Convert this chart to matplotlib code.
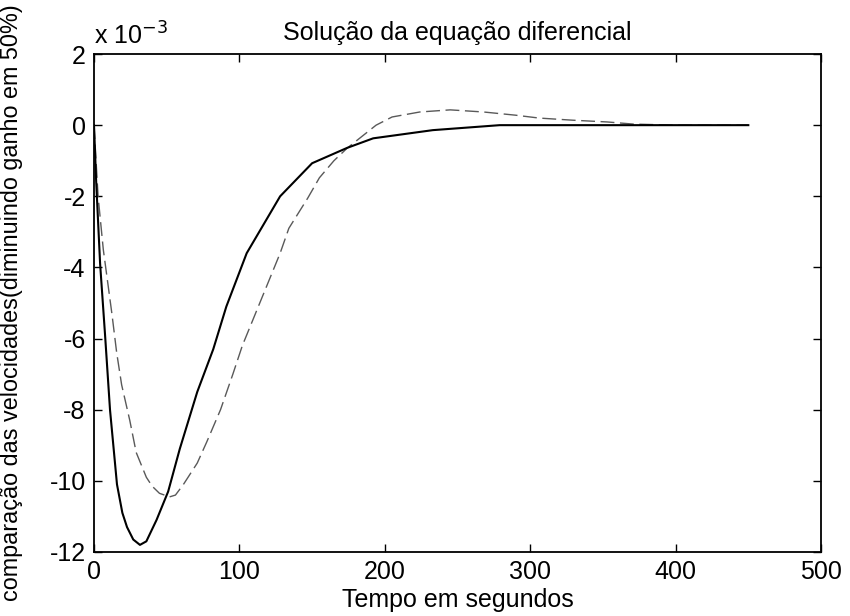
import matplotlib
matplotlib.use("Agg")
import matplotlib.pyplot as plt

plt.rcParams["font.family"] = ["Liberation Sans", "DejaVu Sans"]
plt.rcParams["axes.unicode_minus"] = False

# values, y in units of 1e-3
t_solid = [0, 1.5, 4.2, 7.6, 11, 15.8, 19.5, 22.7, 27, 31.6, 36, 43, 51, 59,
           71, 82, 91, 105, 128, 150, 174, 192, 233, 279, 330, 400, 450]
y_solid = [0, -1.6, -3.9, -5.9, -8.0, -10.1, -10.9, -11.3, -11.65, -11.8,
           -11.7, -11.1, -10.3, -9.1, -7.5, -6.3, -5.1, -3.6, -2.0, -1.07,
           -0.64, -0.37, -0.14, 0.0, 0.0, 0.0, 0.0]

t_dash = [0, 2.8, 6.4, 12.3, 15.6, 19, 24.6, 29, 36, 40, 45, 52, 56, 61.5, 71,
          77.6, 87, 95.5, 102, 112, 121, 128, 134, 147, 155, 165, 174, 194,
          205, 224, 245, 268, 290, 306, 329, 353, 371, 400, 450]
y_dash = [0, -2.0, -3.5, -5.3, -6.4, -7.3, -8.3, -9.2, -9.9, -10.15, -10.35,
          -10.45, -10.4, -10.1, -9.5, -8.9, -8.0, -7.0, -6.2, -5.2, -4.3,
          -3.6, -2.9, -2.05, -1.48, -1.0, -0.65, 0.0, 0.23, 0.37, 0.43, 0.37,
          0.28, 0.2, 0.14, 0.09, 0.03, 0.0, 0.0]

xticks = [0, 100, 200, 300, 400, 500]
yticks = [2, 0, -2, -4, -6, -8, -10, -12]

fig = plt.figure(figsize=(8.5, 6.16), dpi=100)
ax = fig.add_axes([0.1106, 0.1039, 0.8553, 0.8084])

ax.plot(t_dash, y_dash, color="0.35", linewidth=1.0, dashes=(10, 4))
ax.plot(t_solid, y_solid, color="black", linewidth=1.5)

ax.set_xlim(0, 500)
ax.set_ylim(-12, 2)
ax.set_xticks(xticks)
ax.set_yticks(yticks)
ax.tick_params(direction="in", length=6, width=1, top=True, right=True,
               labelsize=18, pad=6)
for s in ax.spines.values():
    s.set_linewidth(1.3)

ax.set_title("Solução da equação diferencial", fontsize=18, pad=10)
ax.set_xlabel("Tempo em segundos", fontsize=18, labelpad=3)
ax.set_ylabel("comparação das velocidades(diminuindo ganho em 50%)", fontsize=16.8)
ax.yaxis.set_label_coords(-0.097, 0.5)
ax.text(0.0, 1.018, r"x 10$^{-3}$", transform=ax.transAxes, fontsize=18,
        ha="left", va="baseline")

fig.savefig("out.png", dpi=100, facecolor="white")
